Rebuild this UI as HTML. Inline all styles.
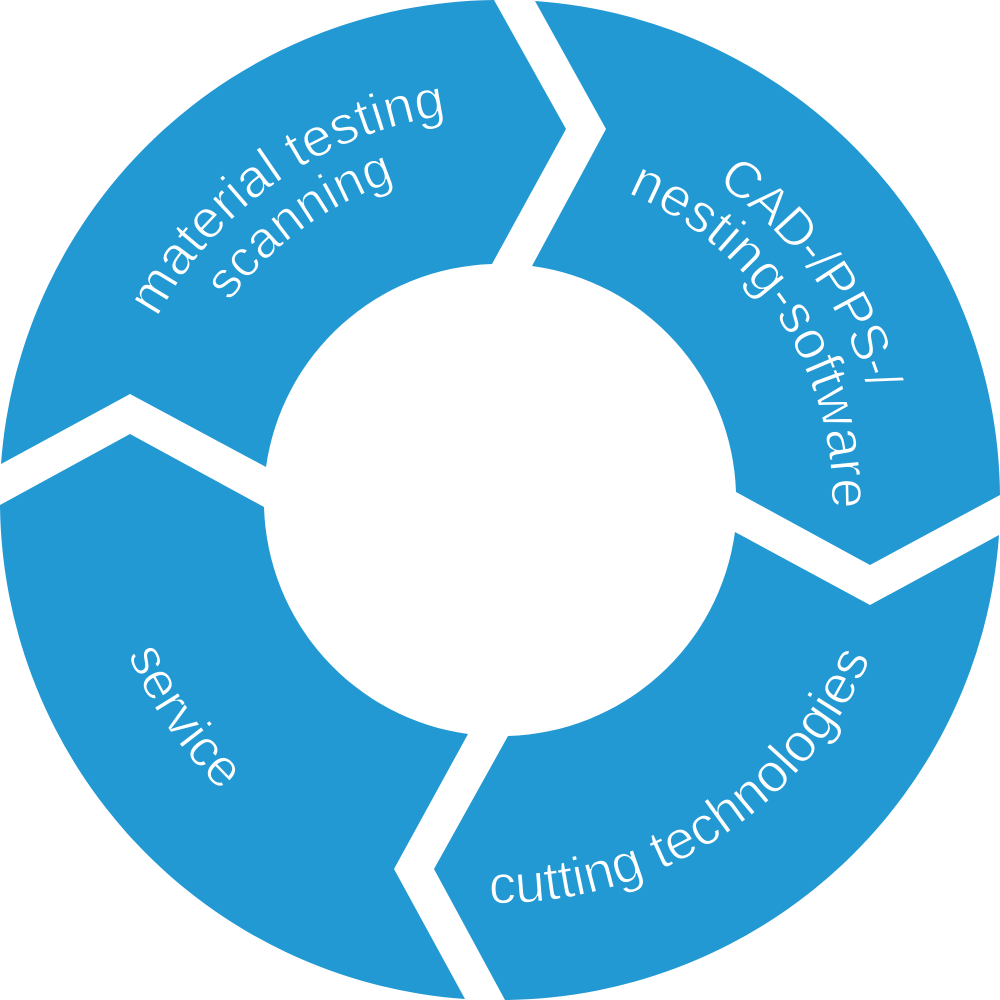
<!DOCTYPE html>
<html>
<head>
<meta charset="utf-8">
<style>
html,body{margin:0;padding:0;background:#fff;width:1000px;height:1000px;overflow:hidden}
svg{display:block}
text{font-family:"Liberation Sans",sans-serif;font-size:53px;fill:#fff;stroke:#2299d3;stroke-width:1.1px}
</style>
</head>
<body>
<svg width="1000" height="1000" viewBox="0 0 1000 1000" xmlns="http://www.w3.org/2000/svg">
<defs>
<path id="p1" d="M157.4,318 A388,388 0 0 1 567,118"/>
<path id="p2" d="M229.7,302.1 A335,335 0 0 1 500,165 A335,335 0 0 1 650,200"/>
<path id="p3" d="M716.4,182.8 A384,384 0 0 1 884,500"/>
<path id="p4" d="M627,193.2 A332,332 0 0 1 832,500 A332,332 0 0 1 820,586"/>
<path id="p5" d="M489,903 A403,403 0 0 0 903,500"/>
<path id="p6" d="M127.7,654.2 A403,403 0 0 0 500,903"/>
</defs>
<g fill="#2299d3">
<path d="M494,0 L566,129 L492,264 A236,236 0 0 0 266,467 L130,394 L1,464 A500,500 0 0 1 494,0 Z"/>
<path d="M535,1 L606,129 L532,266 A236,236 0 0 1 736,492 L870,565 L1000,495 A500,500 0 0 0 535,1 Z"/>
<path d="M735,532 L870,605 L999,535 A500,500 0 0 1 505,1000 L434,869 L508,736 A236,236 0 0 0 735,532 Z"/>
<path d="M468,734 L394,869 L465,999 A500,500 0 0 1 0,505 L130,434 L264,507 A236,236 0 0 0 468,734 Z"/>
</g>
<text style="font-size:54px"><textPath href="#p1">material testing</textPath></text>
<text style="font-size:52px"><textPath href="#p2">scanning</textPath></text>
<text style="font-size:52px;letter-spacing:-1.5px"><textPath href="#p3">CAD-/PPS-/</textPath></text>
<text style="font-size:54.5px"><textPath href="#p4">nesting-software</textPath></text>
<text style="font-size:54.5px"><textPath href="#p5">cutting technologies</textPath></text>
<text><textPath href="#p6">service</textPath></text>
</svg>
</body>
</html>
